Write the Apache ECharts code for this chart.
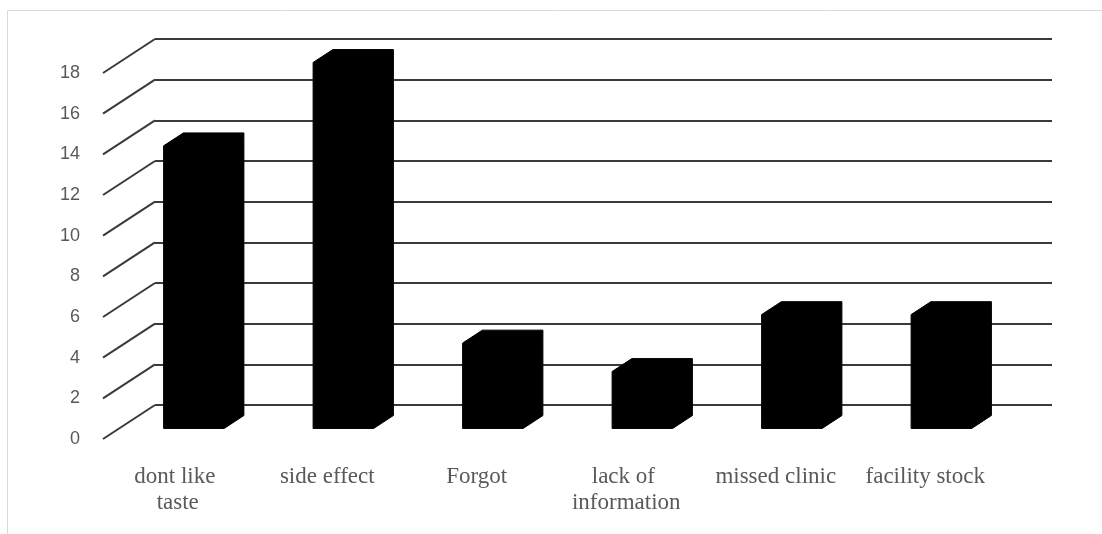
<!DOCTYPE html>
<html>
<head>
<meta charset="utf-8">
<style>
  html, body { margin: 0; padding: 0; background: #ffffff; }
  #chart { width: 1102px; height: 534px; }
</style>
<script src="https://cdn.jsdelivr.net/npm/echarts@6/dist/echarts.min.js"></script>
</head>
<body>
<div id="chart"></div>
<script>
// Reasons given for missed doses
const categories = ['dont like taste', 'side effect', 'Forgot', 'lack of information', 'missed clinic', 'facility stock'];
const values = [13.9, 18.0, 4.2, 2.8, 5.6, 5.6];
const yTicks = [0, 2, 4, 6, 8, 10, 12, 14, 16, 18];

// Oblique projection: offset from the front edge of the floor to the back wall
const DEPTH_X = 52;
const DEPTH_Y = -34;
// Column placement within the depth (fractions of the full depth)
const COL_FRONT = 0.31;
const COL_DEPTH = 0.38;
const COL_WIDTH = 0.405;

const chart = echarts.init(document.getElementById('chart'), null, { renderer: 'canvas' });

const backGrid = { left: 155, top: 39, width: 897, height: 366 };
const frontGrid = {
  left: backGrid.left - DEPTH_X,
  top: backGrid.top - DEPTH_Y,
  width: backGrid.width,
  height: backGrid.height
};

// Slanted gridlines on the left side wall
function renderSideLine(params, api) {
  const cs = params.coordSys;
  const y = api.coord([0, api.value(1)])[1];
  return {
    type: 'line',
    shape: { x1: cs.x, y1: y, x2: cs.x + DEPTH_X, y2: y + DEPTH_Y },
    style: { stroke: '#3a3a3a', lineWidth: 2 }
  };
}

// 3D-looking column drawn as a solid silhouette
function renderColumn(params, api) {
  const i = api.value(0);
  const v = api.value(1);
  const base = api.coord([i, 0]);
  const top = api.coord([i, v]);
  const band = api.size([1, 0])[0];
  const w = band * COL_WIDTH;
  const sx = DEPTH_X * COL_FRONT, sy = DEPTH_Y * COL_FRONT;
  const bx = DEPTH_X * COL_DEPTH, by = DEPTH_Y * COL_DEPTH;
  const cx = base[0] + sx;
  const x0 = cx - w / 2, x1 = cx + w / 2;
  const yb = base[1] + sy, yt = top[1] + sy;
  return {
    type: 'polygon',
    shape: {
      points: [
        [x0, yb], [x0, yt], [x0 + bx, yt + by],
        [x1 + bx, yt + by], [x1 + bx, yb + by], [x1, yb]
      ]
    },
    style: { fill: '#000000', stroke: '#000000', lineWidth: 1 }
  };
}

const option = {
  backgroundColor: '#ffffff',
  animation: false,
  graphic: [{
    type: 'rect',
    shape: { x: 7.5, y: 10.5, width: 1120, height: 540 },
    style: { fill: 'none', stroke: '#d9d9d9', lineWidth: 1 },
    silent: true
  }],
  grid: [backGrid, frontGrid],
  xAxis: [
    { gridIndex: 0, type: 'category', data: categories, show: false },
    {
      gridIndex: 1, type: 'category', data: categories,
      axisLine: { show: false }, axisTick: { show: false }, splitLine: { show: false },
      axisLabel: {
        interval: 0, margin: 25,
        color: '#595959', fontFamily: 'Liberation Serif', fontSize: 23, lineHeight: 26,
        width: 126, overflow: 'break'
      }
    }
  ],
  yAxis: [
    {
      gridIndex: 0, type: 'value', min: 0, max: 18, interval: 2,
      axisLine: { show: false }, axisTick: { show: false }, axisLabel: { show: false },
      splitLine: { show: true, lineStyle: { color: '#3a3a3a', width: 2 } }
    },
    {
      gridIndex: 1, type: 'value', min: 0, max: 18, interval: 2,
      axisLine: { show: false }, axisTick: { show: false }, splitLine: { show: false },
      axisLabel: { margin: 23, color: '#595959', fontFamily: 'Liberation Sans', fontSize: 18 }
    }
  ],
  series: [
    {
      type: 'custom', xAxisIndex: 1, yAxisIndex: 1,
      data: yTicks.map(t => [0, t]),
      renderItem: renderSideLine, silent: true
    },
    {
      type: 'custom', xAxisIndex: 1, yAxisIndex: 1,
      data: values.map((v, i) => [i, v]),
      renderItem: renderColumn
    }
  ]
};

chart.setOption(option);
</script>
</body>
</html>
